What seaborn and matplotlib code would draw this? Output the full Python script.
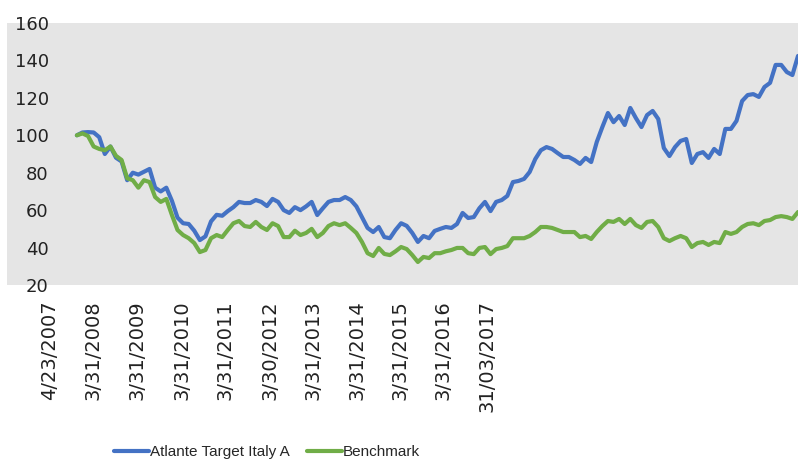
import pandas as pd
import matplotlib
matplotlib.use("Agg")
import matplotlib.pyplot as plt
import seaborn as sns

# Monthly index levels (Apr 2007 = 100)
fund = [100, 101.5, 101.7, 101.5, 99, 90, 94, 88, 86, 76,
        80, 79, 80.5, 82, 72, 70, 72, 65, 56, 53,
        52.6, 49, 44, 46, 54, 57.5, 57, 59.5, 61.6, 64.4,
        63.8, 63.8, 65.4, 64.4, 62.2, 66, 64.4, 60, 58.5, 61.6,
        60, 62, 64.4, 57.4, 61, 64.4, 65.4, 65.4, 67, 65.4,
        62, 56.3, 50.5, 48.3, 51, 45.6, 45, 49.4,
        53, 51.6, 47.8, 43, 46.2, 45, 48.9, 50, 51, 50.5,
        52.6, 58.5, 55.8, 56.3, 61, 64.4, 59.5, 64.4, 65.4, 67.6,
        75, 75.6, 76.7, 80.4, 87.3, 92, 93.7, 92.7, 90.5, 88.4,
        88.4, 86.8, 84.7, 87.9, 85.7, 96.4, 104.4, 111.9, 107, 110.3,
        105.5, 114.6, 109.2, 104.4, 110.8, 113, 108.7, 93.2, 88.9, 93.7,
        97, 98, 85.2, 90, 91, 87.9, 92.7, 90, 103.4, 103.4,
        107.7, 118.3, 121.5, 122, 120.5, 125.8, 128, 137.6, 137.6, 133.8,
        132.2, 142.4]

benchmark = [100, 101, 99.6, 94, 92.7, 92, 94, 89, 86.8, 77,
             76, 72, 76, 75, 67, 64.4, 66, 57.4, 49.4, 46.7,
             45, 42.4, 37.6, 38.7, 45, 46.7, 45.6, 49.4, 53, 54.2,
             51.5, 51, 53.7, 51, 49.4, 53, 51.5, 45.6, 45.6, 49,
             46.7, 47.8, 50, 45.6, 47.8, 51.5, 53, 52, 53, 50.5,
             47.8, 43, 37, 35.5, 39.8, 36.6, 36, 38,
             40.3, 39.2, 36, 32.3, 35, 34.4, 37, 37, 38, 38.7,
             39.8, 39.8, 37, 36.5, 39.8, 40.3, 36.5, 39.2, 39.8, 40.8,
             45, 45, 45, 46.2, 48.3, 51, 51, 50.5, 49.4, 48.3,
             48.3, 48.3, 45.6, 46.2, 44.6, 48.3, 51.5, 54.2, 53.7, 55.3,
             52.6, 55.3, 52, 50.5, 53.7, 54.2, 51, 45, 43.5, 45,
             46.2, 45, 40.3, 42.4, 43, 41.4, 43, 42.4, 48.3, 47.3,
             48.3, 51, 52.6, 53, 52, 54.2, 54.7, 56.3, 56.8, 56.3,
             55.3, 59]

series_names = ["Atlante Target Italy A", "Benchmark"]
colors = ["#4472C4", "#70AD47"]

tick_labels = ["4/23/2007", "3/31/2008", "3/31/2009", "3/31/2010", "3/31/2011",
               "3/30/2012", "3/31/2013", "3/31/2014", "3/31/2015", "3/31/2016",
               "31/03/2017"]
# label positions in period units (the original category axis is not evenly dated)
tick_pos = [-4.8, 2.9, 10.7, 18.8, 26.5, 34.5, 42.2, 50.1, 57.8, 65.5, 73.3]

df = pd.DataFrame({"period": range(len(fund)),
                   series_names[0]: fund,
                   series_names[1]: benchmark})
long_df = df.melt(id_vars="period", var_name="series", value_name="value")

sns.set_style("white")
plt.rcParams["font.family"] = ["DejaVu Sans"]

fig = plt.figure(figsize=(7.98, 4.61), dpi=100)
ax = fig.add_axes([7 / 798, 176 / 461, 791 / 798, 262 / 461])
ax.set_facecolor("#e5e5e5")

sns.lineplot(data=long_df, x="period", y="value", hue="series",
             palette=colors, linewidth=3, ax=ax, legend=False)

ax.set_xlim(-12.5, 129)
ax.set_ylim(20, 160)
ax.set_yticks(range(20, 161, 20))
ax.set_xticks(tick_pos)
ax.set_xticklabels(tick_labels, rotation=90)
ax.set_xlabel("")
ax.set_ylabel("")
ax.tick_params(axis="x", length=0, pad=11, labelsize=14, labelcolor="#222222")
ax.tick_params(axis="y", length=0, pad=-30, labelsize=13, labelcolor="#222222")
for s in ax.spines.values():
    s.set_visible(False)

handles = [plt.Line2D([], [], color=c, linewidth=3) for c in colors]
fig.legend(handles, series_names, loc="center", bbox_to_anchor=(267 / 798, 1 - 452 / 461),
           ncol=2, frameon=False, handlelength=2.3, handletextpad=0.08, columnspacing=1.1,
           borderpad=0.1, prop={"family": "Liberation Sans", "size": 11})

fig.savefig("out.png", dpi=100)
